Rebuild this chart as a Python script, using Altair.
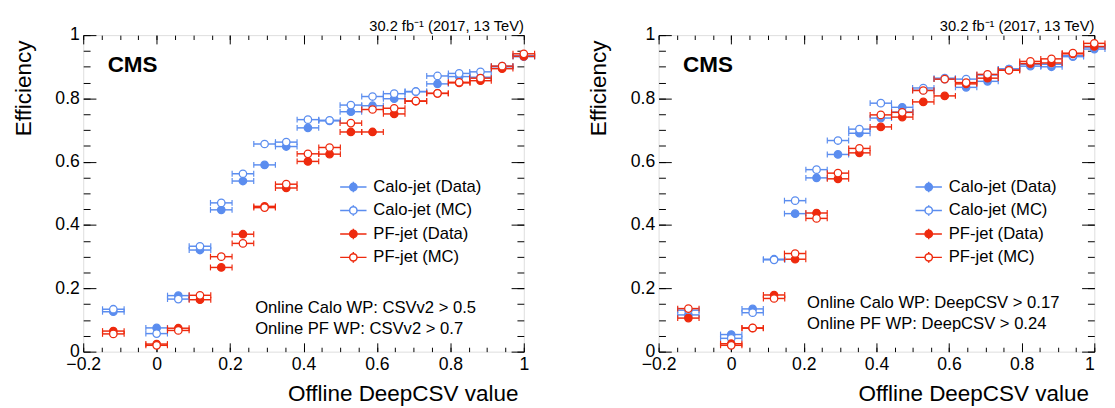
import altair as alt
import pandas as pd

FONT = "Liberation Sans"
BLUE = "#5b8def"
RED = "#ee2a0e"

SERIES = ["Calo-jet (Data)", "Calo-jet (MC)", "PF-jet (Data)", "PF-jet (MC)"]

# bin centres of offline DeepCSV value (half bin width below)
x_centers = [-0.118, 0.0, 0.059, 0.118, 0.176, 0.235, 0.294, 0.353, 0.412, 0.471,
             0.529, 0.588, 0.647, 0.706, 0.765, 0.824, 0.882, 0.941, 1.0]
half_bin = 0.0294

# Left panel: online CSVv2 working points
left_calo_data = [0.126, 0.075, 0.177, 0.321, 0.448, 0.539, 0.590, 0.648, 0.707, 0.729,
                  0.758, 0.777, 0.799, 0.821, 0.846, 0.869, 0.867, 0.900, 0.932]
left_calo_mc = [0.134, 0.057, 0.166, 0.333, 0.470, 0.562, 0.656, 0.662, 0.733, 0.731,
                0.779, 0.806, 0.815, 0.822, 0.871, 0.879, 0.884, 0.902, 0.935]
left_pf_data = [0.065, 0.024, 0.074, 0.164, 0.266, 0.371, 0.459, 0.517, 0.601, 0.624,
                0.694, 0.694, 0.751, 0.791, 0.816, 0.849, 0.856, 0.894, 0.933]
left_pf_mc = [0.056, 0.020, 0.067, 0.178, 0.300, 0.342, 0.455, 0.529, 0.625, 0.645,
              0.722, 0.765, 0.769, 0.792, 0.816, 0.851, 0.864, 0.902, 0.941]

# Right panel: online DeepCSV working points
right_calo_data = [0.116, 0.054, 0.135, 0.292, 0.436, 0.549, 0.623, 0.690, 0.738, 0.772,
                   0.826, 0.861, 0.835, 0.854, 0.893, 0.902, 0.900, 0.932, 0.956]
right_calo_mc = [0.131, 0.042, 0.123, 0.290, 0.477, 0.575, 0.667, 0.703, 0.785, 0.757,
                 0.833, 0.864, 0.861, 0.874, 0.893, 0.908, 0.908, 0.935, 0.962]
right_pf_data = [0.106, 0.025, 0.074, 0.179, 0.292, 0.438, 0.546, 0.628, 0.710, 0.741,
                 0.789, 0.808, 0.846, 0.864, 0.889, 0.910, 0.912, 0.941, 0.964]
right_pf_mc = [0.136, 0.020, 0.075, 0.168, 0.310, 0.421, 0.564, 0.642, 0.748, 0.756,
               0.825, 0.861, 0.850, 0.876, 0.889, 0.917, 0.925, 0.943, 0.974]

x_major = [-0.2, 0.0, 0.2, 0.4, 0.6, 0.8, 1.0]
x_minor = [round(-0.2 + 0.05 * i, 2) for i in range(25)]
y_major = [0.0, 0.2, 0.4, 0.6, 0.8, 1.0]
y_minor = [round(0.05 * i, 2) for i in range(21)]

header = "30.2 fb\u207b\u00b9 (2017, 13 TeV)"
left_wp = ["Online Calo WP: CSVv2 > 0.5", "Online PF WP: CSVv2 > 0.7"]
right_wp = ["Online Calo WP: DeepCSV > 0.17", "Online PF WP: DeepCSV > 0.24"]


def make_df(series_values):
    rows = []
    for name, vals in zip(SERIES, series_values):
        for xc, v in zip(x_centers, vals):
            rows.append({"series": name, "x": xc, "xlo": xc - half_bin,
                         "xhi": xc + half_bin, "y": v})
    return pd.DataFrame(rows)


xs = alt.Scale(domain=[-0.2, 1.0], nice=False, zero=False)
ys = alt.Scale(domain=[0.0, 1.0], nice=False, zero=False)
stroke_scale = alt.Scale(domain=SERIES, range=[BLUE, BLUE, RED, RED])
fill_scale = alt.Scale(domain=SERIES, range=[BLUE, "white", RED, "white"])
series_color = alt.condition("test(/Calo/, datum.series)", alt.value(BLUE), alt.value(RED))

SYM = ("M-1,0H-0.28M0.28,0H1M0,-0.4V-0.28M0,0.28V0.4"
       "M0.28,0A0.28,0.28,0,1,1,-0.28,0A0.28,0.28,0,1,1,0.28,0Z")


def tick_axis(orient, values, size, labels=False, title=None, **kw):
    return alt.Axis(orient=orient, values=values, tickSize=size, offset=-size,
                    domain=False, grid=False, labels=labels, title=title,
                    tickColor="black", tickWidth=1, **kw)


def panel(df, wp, width, legx, wpx, wpy, flush_last=False):
    base = alt.Chart(df)
    label_kw = dict(format="~g", labelFont=FONT, labelFontSize=18, labelColor="black",
                    labelFlush=False, labelOverlap=False, labelPadding=4,
                    titleFont=FONT, titleFontSize=23, titleFontWeight="normal",
                    titleColor="black", titleAnchor="end", titleAlign="right")
    xkw = dict(label_kw)
    if flush_last:
        xkw["labelAlign"] = alt.condition("datum.value == 1", alt.value("right"),
                                          alt.value("center"))
    ax_major = base.mark_point(opacity=0).encode(
        x=alt.X("x:Q", scale=xs, axis=tick_axis("bottom", x_major, 9, labels=True,
                                                title="Offline DeepCSV value",
                                                titlePadding=10, titleX=width - 6,
                                                **xkw)),
        y=alt.Y("y:Q", scale=ys, axis=tick_axis("left", y_major, 13, labels=True,
                                                title="Efficiency",
                                                titlePadding=20, titleY=5,
                                                **label_kw)),
    )
    ax_minor = base.mark_point(opacity=0).encode(
        x=alt.X("x:Q", scale=xs, axis=tick_axis("bottom", x_minor, 4.5)),
        y=alt.Y("y:Q", scale=ys, axis=tick_axis("left", y_minor, 7)),
    )
    ax_major2 = base.mark_point(opacity=0).encode(
        x=alt.X("x:Q", scale=xs, axis=tick_axis("top", x_major, 9)),
        y=alt.Y("y:Q", scale=ys, axis=tick_axis("right", y_major, 13)),
    )
    ax_minor2 = base.mark_point(opacity=0).encode(
        x=alt.X("x:Q", scale=xs, axis=tick_axis("top", x_minor, 4.5)),
        y=alt.Y("y:Q", scale=ys, axis=tick_axis("right", y_minor, 7)),
    )
    leg = alt.Legend(title=None, orient="none", legendX=legx, legendY=141,
                     symbolType=SYM, symbolSize=729, symbolStrokeWidth=1.5,
                     symbolFillColor="white", symbolOpacity=1,
                     labelFont=FONT, labelFontSize=17, labelColor="black",
                     rowPadding=1, labelOffset=6, padding=0)
    bars = base.mark_rule(strokeWidth=1.5).encode(
        x=alt.X("xlo:Q", scale=xs, axis=None),
        x2="xhi:Q",
        y=alt.Y("y:Q", scale=ys, axis=None),
        stroke=series_color,
    )
    caps = base.transform_fold(["xlo", "xhi"], as_=["end", "xc"]).mark_tick(
        orient="vertical", size=6, thickness=1.2, opacity=1
    ).encode(
        x=alt.X("xc:Q", scale=xs, axis=None),
        y=alt.Y("y:Q", scale=ys, axis=None),
        color=series_color,
    )
    pts = base.mark_point(filled=True, shape="circle", size=58, strokeWidth=1.3,
                          opacity=1).encode(
        x=alt.X("x:Q", scale=xs, axis=None),
        y=alt.Y("y:Q", scale=ys, axis=None),
        stroke=alt.Stroke("series:N", scale=stroke_scale, legend=leg),
        fill=alt.Fill("series:N", scale=fill_scale, legend=leg),
    )

    def txt(s, x, y, size=17, weight="normal", align="left", baseline="middle"):
        return alt.Chart(pd.DataFrame({"t": [s]})).mark_text(
            align=align, baseline=baseline, font=FONT, fontSize=size,
            fontWeight=weight, color="black"
        ).encode(x=alt.value(x), y=alt.value(y), text="t:N")

    texts = [txt("CMS", 25, 31, size=23, weight="bold"),
             txt(wp[0], wpx, wpy), txt(wp[1], wpx, wpy + 22),
             txt(header, width, -4, size=15, align="right", baseline="alphabetic")]

    return alt.layer(ax_major, ax_minor, ax_major2, ax_minor2, bars, caps, pts,
                     *texts).resolve_axis(x="independent", y="independent").properties(
        width=width, height=324)


left = panel(make_df([left_calo_data, left_calo_mc, left_pf_data, left_pf_mc]),
             left_wp, 451, 262, 176, 279)
right = panel(make_df([right_calo_data, right_calo_mc, right_pf_data, right_pf_mc]),
              right_wp, 446, 262, 152, 274, flush_last=True)

chart = alt.hconcat(left, right, spacing=52).resolve_scale(
    fill="independent", stroke="independent"
).properties(
    padding={"left": 4, "top": 6, "right": 0, "bottom": 0}
).configure_view(stroke="black", strokeWidth=1).configure(background="white")

chart.save("out.html", embed_options={"renderer": "svg", "actions": False})
